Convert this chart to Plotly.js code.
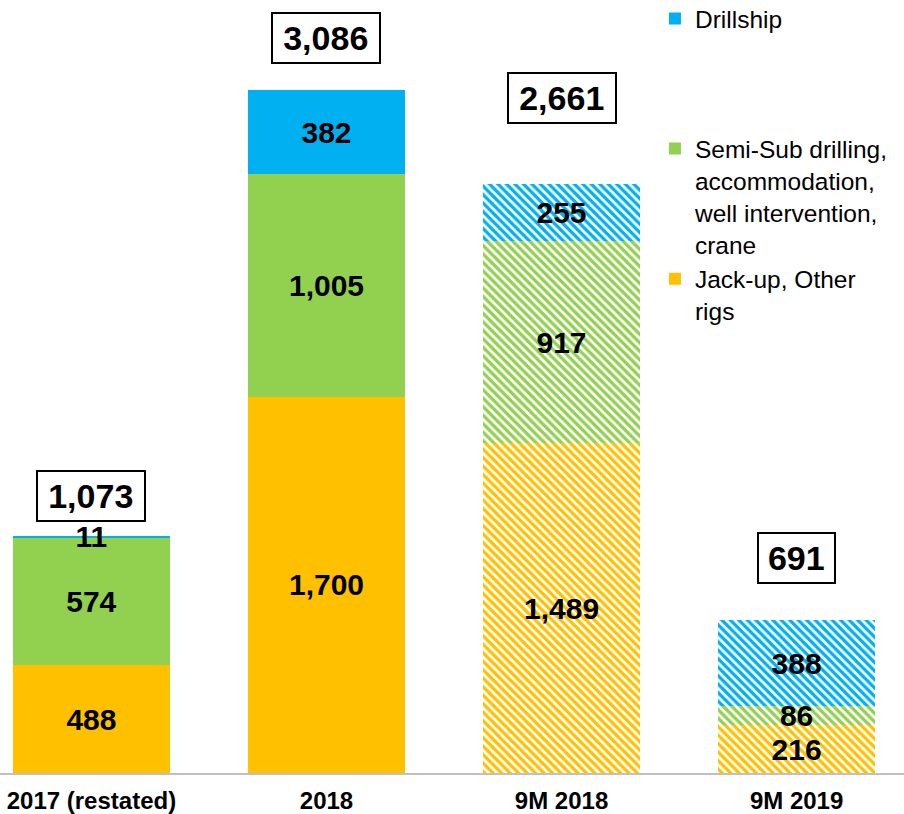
<!DOCTYPE html>
<html>
<head>
<meta charset="utf-8">
<script src="https://cdn.plot.ly/plotly-3.0.1.min.js"></script>
<style>
  html, body { margin: 0; padding: 0; background: #fff; }
  #chart { width: 904px; height: 814px; }
</style>
</head>
<body>
<div id="chart"></div>
<script>
// values
const categories = ['2017 (restated)', '2018', '9M 2018', '9M 2019'];
const jackUp = [488, 1700, 1489, 216];
const semiSub = [574, 1005, 917, 86];
const drillship = [11, 382, 255, 388];
const totals = [1073, 3086, 2661, 691];

// solid for full years, hatched for nine-month figures
const hatch = ['', '', '\\', '\\'];
// pixel lift of each boxed total above its bar
const totalLift = [40, 52, 86, 62];

function makeTrace(name, values, color, group, rank) {
    return {
        type: 'bar',
        name: name,
        x: categories,
        y: values,
        legendgroup: group,
        legendrank: rank,
        marker: {
            color: color,
            line: { width: 0 },
            pattern: { shape: hatch, fillmode: 'replace', size: 6, solidity: 0.55 }
        },
        texttemplate: '%{y:,}',
        textposition: 'inside',
        insidetextanchor: 'middle',
        textangle: 0,
        constraintext: 'none',
        textfont: { family: 'Arial, Liberation Sans, sans-serif', size: 30, color: '#000', weight: 'bold' },
        hoverinfo: 'x+y+name'
    };
}

const data = [
    makeTrace('Jack-up, Other<br>rigs', jackUp, '#FFC000', 'rigs', 3),
    makeTrace('Semi-Sub drilling,<br>accommodation,<br>well intervention,<br>crane', semiSub, '#92D050', 'rigs', 2),
    makeTrace('Drillship', drillship, '#00B0F0', 'ships', 1)
];

const annotations = totals.map(function (t, i) {
    const label = t.toLocaleString('en-US');
    return {
        x: i,
        y: t,
        xref: 'x',
        yref: 'y',
        text: label,
        showarrow: false,
        yanchor: 'middle',
        yshift: totalLift[i],
        width: 15.5 * label.length + 18,
        bordercolor: '#000',
        borderwidth: 2,
        borderpad: 5,
        bgcolor: '#fff',
        font: { family: 'Arial, Liberation Sans, sans-serif', size: 34, color: '#000', weight: 'bold' }
    };
});

const layout = {
    barmode: 'stack',
    bargap: 0.332,
    width: 904,
    height: 814,
    margin: { l: 0, r: 0, t: 0, b: 41, autoexpand: false },
    paper_bgcolor: '#fff',
    plot_bgcolor: '#fff',
    font: { family: 'Arial, Liberation Sans, sans-serif', color: '#000' },
    xaxis: {
        type: 'category',
        range: [-0.389, 3.457],
        showline: true,
        linecolor: '#c0c0c0',
        linewidth: 2,
        showgrid: false,
        ticks: 'outside',
        ticklen: 5,
        tickcolor: 'rgba(0,0,0,0)',
        tickfont: { size: 24, color: '#000', weight: 'bold' },
        fixedrange: true
    },
    yaxis: {
        range: [0, 3493],
        visible: false,
        showgrid: false,
        zeroline: false,
        fixedrange: true
    },
    showlegend: true,
    legend: {
        x: 0.7245,
        xanchor: 'left',
        y: 1.005,
        yanchor: 'top',
        traceorder: 'grouped',
        tracegroupgap: 95,
        valign: 'top',
        bgcolor: 'rgba(0,0,0,0)',
        font: { size: 24.5, color: '#000' }
    },
    annotations: annotations
};

Plotly.newPlot('chart', data, layout, { displayModeBar: false, staticPlot: true });
</script>
</body>
</html>
